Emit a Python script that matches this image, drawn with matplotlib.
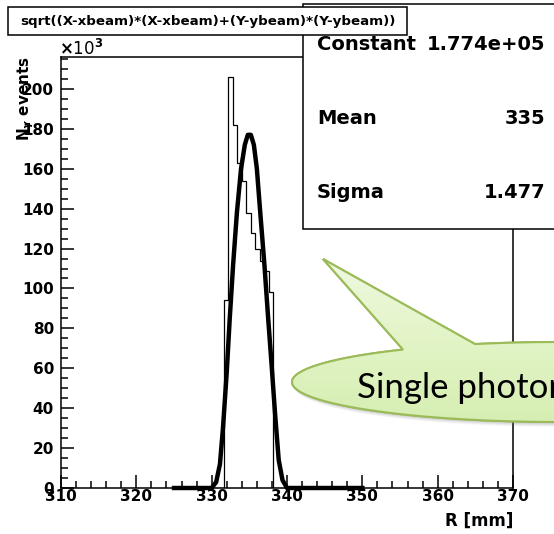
import numpy as np
import matplotlib
matplotlib.use("Agg")
import matplotlib.pyplot as plt
from matplotlib.patches import Rectangle, PathPatch
from matplotlib.path import Path
from matplotlib.ticker import MultipleLocator
from matplotlib.colors import LinearSegmentedColormap

# histogram of R, counts in units of 10^3, 0.6 mm bins
bin_edges = [331.0, 331.6, 332.2, 332.8, 333.4, 334.0, 334.6, 335.2,
             335.8, 336.4, 337.0, 337.6, 338.2, 338.8]
counts = [0, 94, 206, 182, 163, 154, 138, 128, 120, 114, 109, 98, 0]

# fitted gaussian as drawn, units of 10^3
fit_x = [325, 330.0, 330.6, 331.1, 331.5, 332.0, 332.4, 332.85, 333.35, 333.9,
         334.4, 334.8, 335.2, 335.6, 336.0, 336.45, 337.0, 337.5, 337.95,
         338.4, 338.9, 339.4, 340.0, 350]
fit_y = [0, 0, 3, 12, 30, 58, 85, 112, 138, 160,
         172, 177, 177, 172, 160, 138, 112, 85, 62,
         38, 14, 4, 0, 0]

stat_names = ["Constant", "Mean", "Sigma"]
stat_values = ["1.774e+05", "335", "1.477"]

title = "sqrt((X-xbeam)*(X-xbeam)+(Y-ybeam)*(Y-ybeam))"

plt.rcParams['font.family'] = ['DejaVu Sans']
plt.rcParams['font.weight'] = 'bold'

W, H = 554, 534
fig = plt.figure(figsize=(W / 100, H / 100), dpi=100)

# main axes, placed in pixels
ax = fig.add_axes([61 / W, 1 - 488 / H, (513 - 61) / W, (488 - 57) / H])
ax.stairs(counts, bin_edges, color='black', lw=0.9)
ax.plot(fit_x, fit_y, color='black', lw=3.2, clip_on=False)

ax.set_xlim(310, 370)
ax.set_ylim(0, 216)
ax.xaxis.set_major_locator(MultipleLocator(10))
ax.xaxis.set_minor_locator(MultipleLocator(2))
ax.yaxis.set_major_locator(MultipleLocator(20))
ax.yaxis.set_minor_locator(MultipleLocator(5))
ax.tick_params(which='both', direction='in', top=False, right=False,
               width=1.1, labelsize=11)
ax.tick_params(which='major', length=9.5)
ax.tick_params(which='minor', length=5)
ax.tick_params(axis='x', pad=1)
ax.tick_params(axis='y', pad=5)
for s in ax.spines.values():
    s.set_linewidth(1.1)

# overlay in pixel coordinates for boxes and annotations
ov = fig.add_axes([0, 0, 1, 1])
ov.set_xlim(0, W)
ov.set_ylim(H, 0)
ov.axis('off')

# axis titles
ov.text(513, 526, "R [mm]", ha='right', va='baseline', fontsize=12)
ov.text(26, 56, r"N$_{\gamma}$ events", rotation=90, ha='center', va='top',
        fontsize=11)
ov.text(59, 55, r"$\times$10$^{3}$", ha='left', va='baseline', fontsize=12,
        fontweight='normal')

# stat box
ov.add_patch(Rectangle((303, 4), 300, 225, facecolor='white',
                       edgecolor='black', lw=1.1))
for i, (n, v) in enumerate(zip(stat_names, stat_values)):
    y = 45 + 73.5 * i
    ov.text(317, y, n, ha='left', va='center', fontsize=14)
    ov.text(545, y, v, ha='right', va='center', fontsize=14)

# title box
ov.add_patch(Rectangle((8, 7), 399, 28, facecolor='white',
                       edgecolor='black', lw=1.1))
ov.text(207.5, 21, title, ha='center', va='center', fontsize=9.6)

# speech bubble callout
cx, cy, a, b = 560, 382, 268, 40
tip = (323, 259)
t1 = -np.arccos((403 - cx) / a)
t2 = -np.arccos((475 - cx) / a)
t = np.linspace(t1, t2 - 2 * np.pi, 300)
pts = [tip] + list(zip(cx + a * np.cos(t), cy + b * np.sin(t))) + [tip]
pts = np.array(pts)

for k, al in [(5, 0.06), (4, 0.08), (3, 0.1), (2, 0.12)]:
    ov.add_patch(PathPatch(Path(pts + [k * 0.6, k]), facecolor='#777777',
                           edgecolor='none', alpha=al))
bubble = PathPatch(Path(pts), facecolor='#e4f5c9', edgecolor='#9bbb59', lw=1.5)
ov.add_patch(bubble)
cmap = LinearSegmentedColormap.from_list('g', ['#f0f9e2', '#e2f4c6', '#d6eeb2'])
grad = np.linspace(0, 1, 100).reshape(-1, 1)
im = ov.imshow(grad, extent=[280, 560, 424, 255], cmap=cmap, aspect='auto',
               origin='upper', zorder=bubble.get_zorder() + 0.1)
im.set_clip_path(bubble)
ov.add_patch(PathPatch(Path(pts), facecolor='none', edgecolor='#9bbb59',
                       lw=1.5, zorder=bubble.get_zorder() + 0.2))
ov.set_xlim(0, W)
ov.set_ylim(H, 0)
ov.text(357, 398, "Single photon", ha='left', va='baseline', fontsize=25,
        fontweight='normal', family=['Lato', 'DejaVu Sans'], zorder=5)

fig.savefig("out.png", dpi=100)
